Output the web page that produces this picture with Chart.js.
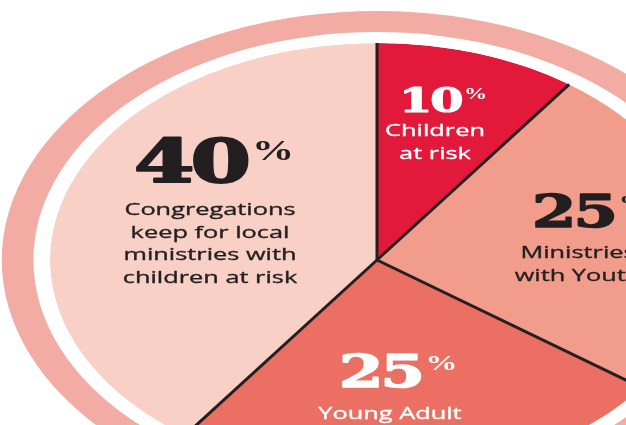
<!DOCTYPE html>
<html>
<head>
<meta charset="utf-8">
<script src="https://cdn.jsdelivr.net/npm/chart.js@4.4.1/dist/chart.umd.min.js"></script>
<style>
    html, body { margin: 0; padding: 0; background: #fff; overflow: hidden; width: 626px; height: 425px; }
    #wrap { position: absolute; left: 0; top: 0; width: 754px; height: 520px; }
</style>
</head>
<body>
<div id="wrap"><canvas id="pieChart"></canvas></div>
<script>
// Data
const categories = ['Children at risk', 'Ministries with Youth', 'Young Adult Volunteers', 'Congregations keep for local ministries with children at risk'];
const shares = [10, 25, 25, 40];
const labelLines = [
    ['Children', 'at risk'],
    ['Ministries', 'with Youth'],
    ['Young Adult', 'Volunteers'],
    ['Congregations', 'keep for local', 'ministries with', 'children at risk']
];
const sliceColors = ['#e2193a', '#f29c8c', '#ec6f63', '#f8d0c6'];
const textColors = ['#ffffff', '#231f20', '#ffffff', '#231f20'];

// Look
const RING = '#f2aca3';
const INK = '#231f20';
const SX = 1.507;           // the whole graphic is stretched sideways
const NUM_SX = 1.45;
const PIE_R = 217, GAP = 11, RING_W = 21;

// where each label sits (number baseline, text first baseline)
const labelPos = [
    { numX: 399, numY: 112, numSize: 33, pctSize: 16, pctY: 99,  textX: 435, textY: 136 },
    { numX: 532, numY: 227, numSize: 44, pctSize: 22, pctY: 210, textX: 578, textY: 258 },
    { numX: 339, numY: 387, numSize: 44, pctSize: 22, pctY: 370, textX: 390, textY: 419 },
    { numX: 134, numY: 182, numSize: 60, pctSize: 29, pctY: 160, textX: 210, textY: 215 }
];
const LINE_H = 22.7;

const drawText = (ctx, text, x, y, font, color, align, sx, spacing, stroke) => {
    ctx.save();
    ctx.translate(x, y);
    ctx.scale(sx, 1);
    ctx.font = font;
    ctx.fillStyle = color;
    ctx.textAlign = align;
    ctx.textBaseline = 'alphabetic';
    if (spacing) ctx.letterSpacing = spacing + 'px';
    ctx.fillText(text, 0, 0);
    if (stroke) {
        ctx.strokeStyle = color;
        ctx.lineWidth = stroke;
        ctx.lineJoin = 'round';
        ctx.strokeText(text, 0, 0);
    }
    const w = ctx.measureText(text).width * sx;
    ctx.restore();
    return w;
};

const stretchPlugin = {
    id: 'stretch',
    beforeDatasetsDraw(chart) {
        const { ctx, chartArea } = chart;
        const cx = (chartArea.left + chartArea.right) / 2;
        ctx.save();
        ctx.translate(cx, 0);
        ctx.scale(SX, 1);
        ctx.translate(-cx, 0);
    },
    afterDatasetsDraw(chart) {
        const ctx = chart.ctx;
        ctx.restore();

        //  black separators between slices (radial edges only)
        const arcs = chart.getDatasetMeta(2).data;
        ctx.save();
        ctx.strokeStyle = INK;
        ctx.lineWidth = 3;
        arcs.forEach(arc => {
            const a = arc.startAngle;
            ctx.beginPath();
            ctx.moveTo(arc.x, arc.y);
            ctx.lineTo(arc.x + Math.cos(a) * arc.outerRadius * SX, arc.y + Math.sin(a) * arc.outerRadius);
            ctx.stroke();
        });
        ctx.restore();

        //  labels
        shares.forEach((v, i) => {
            const p = labelPos[i];
            const color = textColors[i];
            const numFont = `bold ${p.numSize}px "DejaVu Serif"`;
            const w = drawText(ctx, String(v), p.numX, p.numY, numFont, color, 'left', NUM_SX, -p.numSize * 0.045, p.numSize * 0.035);
            drawText(ctx, '%', p.numX + w + p.numSize * 0.08, p.pctY, `bold ${p.pctSize}px "Liberation Serif"`, color, 'left', NUM_SX);
            labelLines[i].forEach((line, j) => {
                drawText(ctx, line, p.textX, p.textY + j * LINE_H, '17px "Open Sans"', color, 'center', 1.49, 0, 0.35);
            });
        });
    }
};

new Chart(document.getElementById('pieChart'), {
    type: 'pie',
    data: {
        labels: categories,
        datasets: [
            { data: [1], backgroundColor: [RING], borderWidth: 0, weight: RING_W },
            { data: [1], backgroundColor: ['#ffffff'], borderWidth: 0, weight: GAP },
            { data: shares, backgroundColor: sliceColors, borderWidth: 0, weight: PIE_R }
        ]
    },
    options: {
        responsive: true,
        maintainAspectRatio: false,
        animation: false,
        radius: PIE_R + GAP + RING_W,
        layout: { padding: 0 },
        events: [],
        plugins: {
            legend: { display: false },
            tooltip: { enabled: false }
        }
    },
    plugins: [stretchPlugin]
});
</script>
</body>
</html>
